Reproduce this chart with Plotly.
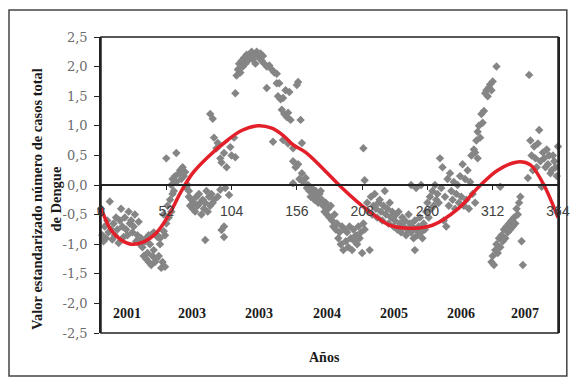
import plotly.graph_objects as go

# Weekly standardized dengue case counts (week index, standardized value)
weeks = [
    0, 1, 2, 3, 4, 5, 6, 7, 8, 9, 10, 11, 12, 13, 14, 15, 16, 17, 18, 19, 20,
    21, 22, 23, 24, 25, 26, 27, 28, 29, 30,
    31, 32, 33, 34, 35, 36, 37, 38, 39, 40, 41, 42, 43, 44, 45, 46, 47, 48, 49,
    50, 51, 42, 45, 47, 36, 38,
    50, 51, 52, 53, 54, 55, 56, 57, 52, 60,
    56, 57, 58, 59, 60, 62, 63, 64, 65, 66, 67, 68, 69, 70,
    70, 71, 72, 73, 74, 75, 76, 77, 78, 79, 80, 81, 82, 83, 84, 85, 86, 87, 88,
    89, 90, 83, 93, 95, 102, 96, 98, 99, 98,
    87, 89, 90, 92, 93, 95, 96, 98, 100, 103, 104, 106, 107, 107,
    108, 109, 110, 111, 112, 113, 114, 115, 116, 117, 118, 119, 120, 121, 122,
    123, 124, 125, 126, 127, 128, 129, 130, 132, 134, 136, 138, 140, 132, 140,
    142, 141, 143, 145, 147, 150, 144, 146, 148, 149, 151, 157, 156, 159, 137,
    145, 149, 153, 160,
    153, 155, 157, 158, 160, 161, 163, 164, 165, 166, 167, 168, 169, 170, 171,
    172, 173, 174, 175, 176, 153,
    177, 178, 179, 180, 181, 182, 183, 184, 185, 186, 187, 188, 189, 190, 191,
    192, 193, 194, 195, 196, 197, 198, 199, 200, 201, 202, 203, 204, 205, 206,
    207, 208, 209, 210, 214, 210, 209,
    212, 213, 215, 216, 217, 218, 219, 220, 221, 222, 223, 224, 225, 226, 227,
    228, 229, 230, 231, 232, 233, 234, 235, 236, 237, 238, 239, 240, 241, 242,
    243, 244, 245, 246, 247, 248, 249, 250, 251, 252, 253, 254, 255, 256, 257,
    258, 250, 247, 251, 255,
    259, 260, 261, 262, 263, 264, 265, 266, 267, 268, 269, 270, 271, 272, 273,
    274, 275, 276, 277, 278, 279, 280, 281, 282, 283, 284, 285, 286, 287, 288,
    289, 290, 291, 292, 293, 294, 295, 296, 297, 298, 299, 300,
    298, 300, 301, 302, 303, 304, 305, 306, 307, 308, 309, 310, 311, 312, 315,
    311, 312, 313, 314, 315, 316, 317, 318, 319, 320, 321, 322, 323, 324, 325,
    326, 327, 328, 329, 330, 331, 332, 333, 334, 335, 336, 318,
    341, 349, 342, 345, 348, 343, 346, 350, 352, 354, 356, 358, 360, 362, 363,
    340, 351, 344, 347, 353, 355, 357, 359, 361, 364,
]
cases_std = [
    -0.40, -0.85, -0.95, -0.70, -0.90, -0.60, -0.80, -0.28, -0.75, -0.92, -0.65,
    -0.85, -0.55, -0.75, -0.98, -0.60, -0.40, -0.70, -0.88, -0.55, -0.75,
    -0.85, -0.45, -0.65, -0.60, -0.80, -0.70, -0.50, -0.95, -0.85, -0.62,
    -1.00, -0.90, -1.05, -1.20, -0.95, -1.25, -1.15, -1.30, -1.00, -1.35, -1.20,
    -1.10, -1.30, -1.25, -0.85, -1.20, -1.00, -1.40, -1.30,
    -0.78, -1.38, -0.80, -0.88, -0.90, -0.90, -0.85,
    -0.50, -0.85, -0.65, -0.35, -0.55, -0.25, -0.45, -0.15, 0.45, 0.54,
    0.00, 0.10, -0.10, 0.15, 0.05, 0.20, 0.25, 0.10, 0.30, 0.15, 0.22, -0.05,
    0.00, -0.10,
    -0.20, -0.35, -0.25, -0.40, -0.30, -0.45, -0.20, -0.35, -0.15, -0.30, -0.50,
    -0.25, -0.40, -0.30, -0.10, -0.45, -0.20, -0.35, -0.15,
    -0.30, -0.25, -0.93, -0.20, -0.08, -0.17, -0.76, -0.88, -0.05, -0.70,
    1.20, 1.12, 0.80, 0.62, 0.71, 0.45, 0.38, 0.54, 0.30, 0.64, 0.50, 0.80,
    0.47, 1.55,
    1.85, 1.95, 2.05, 1.90, 2.10, 2.00, 2.15, 2.05, 2.20, 2.10, 2.20, 2.15, 2.25,
    2.12, 2.20, 2.05, 2.25, 2.20, 2.15, 2.22, 2.10, 2.18, 2.05, 2.00, 2.02,
    1.95, 1.90, 1.88, 1.64, 1.72,
    1.72, 1.50, 1.45, 1.47, 1.60, 1.57, 1.27, 1.20, 1.15, 1.22, 1.10, 1.74, 1.69,
    1.10, 0.73, 0.76, 0.70, 0.62, 0.71,
    0.40, 0.30, 0.35, 0.10, 0.20, 0.05, 0.12, -0.05, 0.00, -0.10, -0.20, -0.05,
    -0.15, -0.25, -0.10, -0.20, -0.30, -0.15, -0.10, -0.25, 0.03,
    -0.35, -0.45, -0.30, -0.50, -0.40, -0.55, -0.35, -0.60, -0.70, -0.50, -0.75,
    -0.65, -0.90, -0.80, -1.00, -0.70, -1.10, -0.75, -0.95, -0.80, -1.05, -0.70,
    -0.90, -1.10, -0.75, -0.95, -0.85, -1.00, -0.70, -0.90, -0.80, -1.15, -0.65,
    -0.75, -1.10, 0.08, 0.62,
    -0.30, -0.45, -0.20, -0.50, -0.35, -0.15, -0.40, -0.55, -0.30, -0.25, -0.45,
    -0.60, -0.35, -0.10, -0.50, -0.40, -0.65, -0.30, -0.55, -0.45, -0.70, -0.60,
    -0.50, -0.75, -0.45, -0.65, -0.80, -0.55, -0.70, -0.60, -0.85, -0.75, -0.50,
    -0.65, -0.80, -0.70, -0.90, -0.60, -0.75, -0.85, -0.70, -0.55, -0.80, -0.90,
    -0.65, -0.75, -1.10, 0.00, -0.05, 0.00,
    -0.45, -0.30, -0.55, -0.20, -0.40, -0.10, -0.35, 0.00, -0.25, -0.15, -0.30,
    0.45, -0.05, 0.30, -0.60, -0.20, -0.70, 0.10, -0.35, 0.20, -0.10, -0.25, 0.05,
    -0.40, -0.15, 0.00, -0.30, 0.15, -0.20, 0.35, -0.35, 0.10, -0.25, 0.25, -0.40,
    0.05, 0.50, -0.15, 0.60, -0.30, 0.75, 0.45,
    0.55, 0.90, 1.00, 0.80, 1.20, 1.05, 1.25, 1.55, 1.60, 1.50, 1.65, 1.70, 1.60,
    1.75, 2.00,
    -1.30, -1.20, -1.35, -1.10, -1.00, -1.15, -0.90, -1.05, -0.85, -0.95, -0.75,
    -0.90, -0.70, -0.80, -0.65, -0.75, -0.60, -0.70, -0.55, -0.65, -0.40, -0.50,
    -0.30, -0.20, -0.95, -1.35, -0.03,
    1.86, 0.93, 0.75, 0.65, 0.70, 0.50, 0.45, 0.40, 0.55, 0.30, 0.35, 0.20, 0.50,
    0.30, 0.15, 0.12, -0.03, 0.25, 0.30, 0.45, 0.60, 0.50, 0.25, 0.40, 0.65,
]

# Polynomial trend, sampled along its course
trend_weeks = [0, 8, 16, 24, 34, 44, 55, 63, 73, 85, 101, 112, 125, 136, 145,
               153, 163, 178, 191, 204, 217, 230, 246, 264, 285, 301, 316, 332,
               342, 352, 364]
trend_vals = [-0.39, -0.76, -0.93, -1.00, -0.96, -0.81, -0.47, -0.14, 0.20,
              0.47, 0.76, 0.92, 1.00, 0.96, 0.84, 0.68, 0.55, 0.25, -0.03,
              -0.28, -0.50, -0.68, -0.73, -0.68, -0.39, -0.03, 0.25, 0.39,
              0.34, 0.03, -0.55]

x_ticks = [0, 52, 104, 156, 208, 260, 312, 364]
x_tick_labels = ["0", "52", "104", "156", "208", "260", "312", "364"]
y_ticks = [-2.5, -2.0, -1.5, -1.0, -0.5, 0.0, 0.5, 1.0, 1.5, 2.0, 2.5]
y_tick_labels = ["-2,5", "-2,0", "-1,5", "-1,0", "-0,5", "0,0", "0,5",
                 "1,0", "1,5", "2,0", "2,5"]

year_labels = ["2001", "2003", "2003", "2004", "2005", "2006", "2007"]
year_label_x = [20.5, 72.5, 126, 180, 233.5, 287, 338]
year_label_y = -2.17

serif_bold = dict(family="Liberation Serif", size=14, color="#1a1a1a")

fig = go.Figure()

fig.add_trace(go.Scatter(
    x=weeks, y=cases_std, mode="markers",
    marker=dict(symbol="diamond", size=6.5, color="#858585", line=dict(width=0)),
    cliponaxis=False, showlegend=False,
))

fig.add_trace(go.Scatter(
    x=trend_weeks, y=trend_vals, mode="lines",
    line=dict(color="#e3202a", width=3.5, shape="spline", smoothing=1.0),
    cliponaxis=False, showlegend=False,
))

for label, xv in zip(year_labels, year_label_x):
    fig.add_annotation(
        x=xv, y=year_label_y, xref="x", yref="y", text="<b>" + label + "</b>",
        showarrow=False, xanchor="center", yanchor="middle", font=serif_bold,
    )

fig.add_annotation(
    x=0.488, y=-0.084, xref="paper", yref="paper", text="<b>Años</b>",
    showarrow=False, xanchor="center", yanchor="middle", font=serif_bold,
)
fig.add_annotation(
    x=-0.1178, y=0.453, xref="paper", yref="paper",
    text="<b>Valor estandarizado número de casos total<br>de Dengue</b>",
    textangle=-90, showarrow=False, xanchor="center", yanchor="middle",
    font=dict(family="Liberation Serif", size=14.5, color="#1a1a1a"),
)

# plot frame and outer frame
fig.add_shape(type="rect", xref="paper", yref="paper", x0=0, x1=1, y0=0, y1=1,
              line=dict(color="#222222", width=1.5), layer="above")
fig.add_shape(type="rect", xref="paper", yref="paper",
              x0=-0.2013, x1=1.0193, y0=-0.1453, y1=1.0912,
              line=dict(color="#444444", width=1.5), layer="above")

fig.update_layout(
    width=582, height=379,
    margin=dict(l=101, r=14, t=37, b=46),
    paper_bgcolor="white", plot_bgcolor="white",
    xaxis=dict(
        range=[0, 364], anchor="free", position=0.5,
        tickvals=x_ticks, ticktext=x_tick_labels,
        showgrid=False, zeroline=False,
        showline=True, linecolor="#222222", linewidth=1.5,
        ticks="outside", ticklen=4, tickcolor="#222222", tickwidth=1,
        ticklabelstandoff=9,
        tickfont=dict(family="Liberation Sans", size=14, color="#404040"),
    ),
    yaxis=dict(
        range=[-2.5, 2.5],
        tickvals=y_ticks, ticktext=y_tick_labels,
        showgrid=False, zeroline=False,
        showline=True, linecolor="#222222", linewidth=1.5, mirror=True,
        ticks="outside", ticklen=5, tickcolor="#222222", tickwidth=1,
        ticklabelstandoff=4,
        tickfont=dict(family="DejaVu Serif", size=13, color="#6b6b6b"),
    ),
)

fig.write_html("out.html")
